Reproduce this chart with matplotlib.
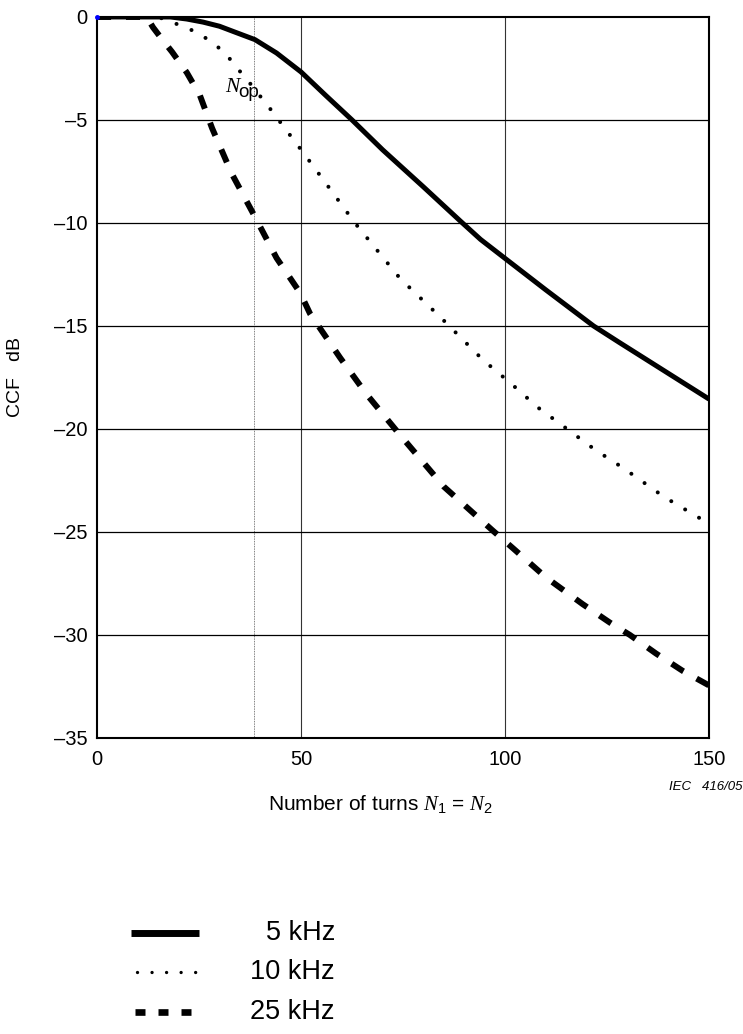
import matplotlib
matplotlib.use("Agg")
import matplotlib.pyplot as plt

plt.rcParams['font.family'] = ['Liberation Sans', 'DejaVu Sans']
plt.rcParams['mathtext.fontset'] = 'custom'
plt.rcParams['mathtext.it'] = 'Liberation Serif:italic'
plt.rcParams['mathtext.rm'] = 'Liberation Sans'

# number of turns N1 = N2 against CCF in dB
n_5k = [0, 18, 22, 26, 30, 34, 38.7, 44, 50, 56, 62.5, 70, 80, 89, 94, 100, 110, 121.7, 128, 134.8, 142, 150]
ccf_5k = [0, 0, -0.1, -0.25, -0.45, -0.75, -1.1, -1.75, -2.67, -3.8, -5.0, -6.45, -8.25, -9.9, -10.8,
          -11.72, -13.25, -15.0, -15.8, -16.65, -17.55, -18.55]

n_10k = [0, 15, 17.6, 21, 24.5, 28, 31.4, 34, 37, 42.6, 50.4, 56, 63.2, 74.3, 84.3, 94.6, 101.5, 108,
         115.2, 122, 129, 139, 150]
ccf_10k = [0, 0, -0.2, -0.45, -0.75, -1.2, -1.75, -2.4, -3.1, -4.5, -6.55, -8.05, -10.0, -12.7, -14.6,
           -16.65, -17.8, -18.95, -20.0, -21.0, -21.9, -23.3, -24.6]

n_25k = [0, 12.2, 13.7, 16, 18.4, 22, 25.2, 28.2, 33, 38.7, 44, 49.8, 52.2, 59.6, 66, 74.3, 85, 96.8,
         102, 110, 119, 125.7, 130.6, 137, 143.6, 150]
ccf_25k = [0, 0, -0.5, -1.1, -1.7, -2.7, -3.8, -5.4, -7.6, -9.7, -11.7, -13.4, -14.4, -16.55, -18.3,
           -20.3, -22.8, -24.9, -25.8, -27.2, -28.5, -29.4, -30.0, -30.9, -31.75, -32.45]

freq_labels = ['5 kHz', '10 kHz', '25 kHz']
n_op = 38.5

fig = plt.figure(figsize=(7.43, 10.34), dpi=100)
ax = fig.add_axes([0.1306, 0.2863, 0.8237, 0.6973])

# grid
for gx in [50, 100]:
    ax.axvline(gx, color='#333333', lw=0.8, zorder=1)
ax.axvline(n_op, color='#555555', lw=0.6, ls=(0, (1, 1)), zorder=1)
for gy in range(-30, 0, 5):
    ax.axhline(gy, color='black', lw=0.9, zorder=1)

styles = [dict(color='black', lw=3.6, ls='-', solid_capstyle='butt'),
          dict(color='black', lw=2.9, ls=(0, (0.01, 4.0)), dash_capstyle='round'),
          dict(color='black', lw=4.3, ls=(0, (2.35, 2.5)), dash_capstyle='butt')]
curves = [(n_5k, ccf_5k), (n_10k, ccf_10k), (n_25k, ccf_25k)]
for (xs, ys), st in zip(curves, styles):
    ax.plot(xs, ys, zorder=3, **st)
ax.plot([0], [0], marker='o', ms=2.5, color='blue', zorder=4, clip_on=False)

ax.text(34.9, -3.64, 'N', family='Liberation Serif', style='italic', fontsize=15.5,
        ha='right', va='baseline')
ax.text(34.7, -3.9, 'op', fontsize=13.5, ha='left', va='baseline')

ax.set_xlim(0, 150)
ax.set_ylim(-35, 0)
ax.set_xticks([0, 50, 100, 150])
ax.set_yticks(range(-35, 1, 5))
ax.set_yticklabels([str(v).replace('-', '\u2013') for v in range(-35, 1, 5)])
ax.tick_params(length=0, labelsize=14.5)
ax.tick_params(axis='x', pad=9)
ax.tick_params(axis='y', pad=7)
for sp in ax.spines.values():
    sp.set_linewidth(1.5)
ax.set_xlabel(r'Number of turns $N_1$ = $N_2$', fontsize=15)
ax.xaxis.set_label_coords(0.464, -0.076)
ax.set_ylabel('CCF   dB', fontsize=14)
ax.yaxis.set_label_coords(-0.12, 0.5)

fig.text(0.999, 0.239, 'IEC   416/05', fontsize=9.5, style='italic', ha='right', va='center')

# legend
lax = fig.add_axes([0, 0, 1, 0.2])
lax.set_xlim(0, 743)
lax.set_ylim(0, 206.8)
lax.axis('off')
leg_styles = [dict(color='black', lw=5.0, ls='-', solid_capstyle='butt'),
              dict(color='black', lw=2.4, ls=(0, (0.01, 4.35)), dash_capstyle='round'),
              dict(color='black', lw=4.8, ls=(0, (1.5, 1.95)), dash_capstyle='butt')]
leg_x = [[131, 199], [137, 196], [135, 193]]
leg_y = [1034 - 933, 1034 - 972, 1034 - 1012]
for xl, yl, st, lab in zip(leg_x, leg_y, leg_styles, freq_labels):
    lax.plot(xl, [yl, yl], **st)
    lax.text(335, yl, lab, fontsize=19.5, ha='right', va='center')

fig.savefig('out.png', dpi=100)
